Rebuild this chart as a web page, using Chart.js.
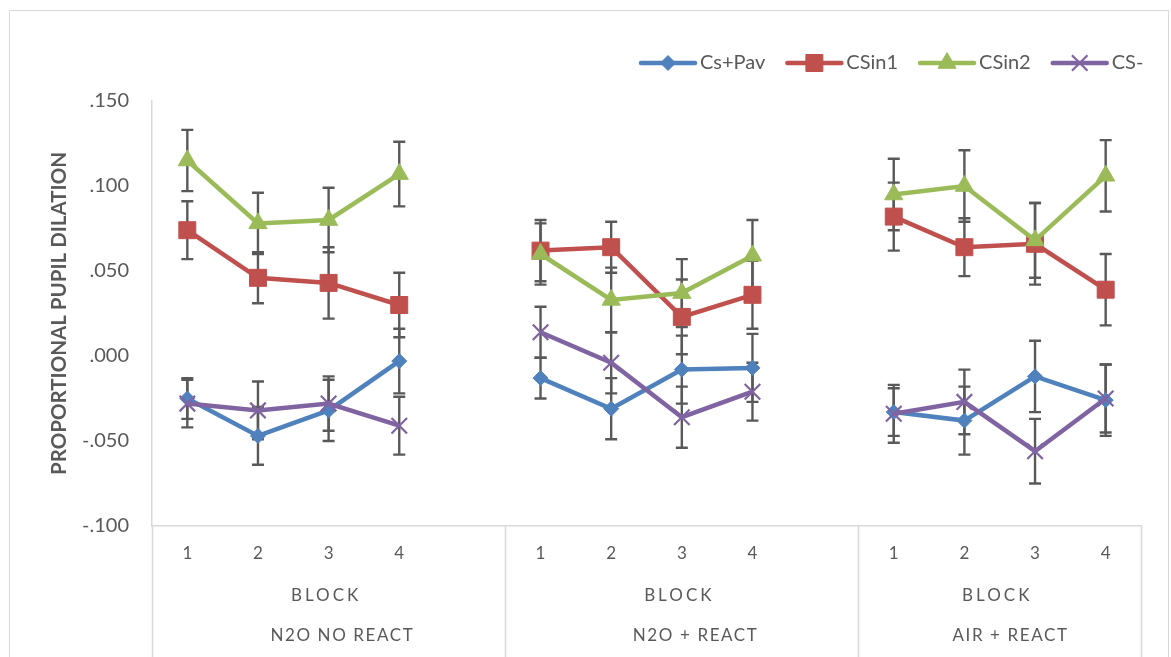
<!DOCTYPE html>
<html>
<head>
<meta charset="utf-8">
<script src="https://cdn.jsdelivr.net/npm/chart.js@4.4.1/dist/chart.umd.min.js"></script>
<style>
  html, body { margin: 0; padding: 0; background: #fff; overflow: hidden; }
  #wrap { position: relative; width: 1171px; height: 657px; }
  #frame { position: absolute; left: 9px; top: 10px; width: 1160px; height: 700px;
           border: 1px solid #d9d9d9; box-sizing: border-box; }
  #c { position: absolute; left: 0; top: 0; }
</style>
</head>
<body>
<div id="wrap">
  <div id="frame"></div>
  <canvas id="c" width="1171" height="657"></canvas>
</div>
<script>
// Block numbers along the x axis; an empty slot separates each condition
const blockLabels = ['1', '2', '3', '4', '', '1', '2', '3', '4', '', '1', '2', '3', '4'];
const groupNames = ['N2O NO REACT', 'N2O + REACT', 'AIR + REACT'];
const groupStart = [0, 5, 10];
const groupEnd = [4, 9, 13];
const groupCaption = 'BLOCK';
const yTitle = 'PROPORTIONAL PUPIL DILATION';

// Mean proportional dilation per block and standard errors
const csPav      = [-0.025, -0.047, -0.032, -0.003, null, -0.013, -0.031, -0.008, -0.007, null, -0.033, -0.038, -0.012, -0.026];
const csPavErr   = [ 0.012,  0.017,  0.018,  0.019, null,  0.012,  0.018,  0.020,  0.020, null,  0.014,  0.020,  0.021,  0.021];
const csin1      = [ 0.074,  0.046,  0.043,  0.030, null,  0.062,  0.064,  0.023,  0.036, null,  0.082,  0.064,  0.066,  0.039];
const csin1Err   = [ 0.017,  0.015,  0.021,  0.019, null,  0.018,  0.015,  0.022,  0.020, null,  0.020,  0.017,  0.024,  0.021];
const csin2      = [ 0.115,  0.078,  0.080,  0.107, null,  0.060,  0.033,  0.037,  0.059, null,  0.095,  0.100,  0.068,  0.106];
const csin2Err   = [ 0.018,  0.018,  0.019,  0.019, null,  0.018,  0.019,  0.020,  0.021, null,  0.021,  0.021,  0.022,  0.021];
const csMinus    = [-0.028, -0.032, -0.028, -0.041, null,  0.014, -0.004, -0.036, -0.021, null, -0.034, -0.027, -0.056, -0.025];
const csMinusErr = [ 0.014,  0.017,  0.016,  0.017, null,  0.015,  0.018,  0.018,  0.017, null,  0.017,  0.019,  0.019,  0.020];

const yMin = -0.1, yMax = 0.15, yStep = 0.05;

const TEXT = '#595959';
const AXIS = '#d9d9d9';
const FONT = 'Lato, "Open Sans", sans-serif';

function series(label, data, errors, color, style, radius, order) {
  return {
    label, data, errors, order,
    borderColor: color, backgroundColor: color,
    borderWidth: 4.5,
    pointStyle: style, pointRadius: radius, pointHoverRadius: radius,
    pointBackgroundColor: color, pointBorderColor: color,
    pointBorderWidth: style === 'crossRot' ? 2.2 : 1,
    tension: 0, spanGaps: false, fill: false
  };
}

// Vertical error bars with caps, drawn under lines and markers
const errorBars = {
  id: 'errorBars',
  beforeDatasetsDraw(chart) {
    const { ctx, scales: { x, y } } = chart;
    ctx.save();
    ctx.strokeStyle = '#595959';
    ctx.lineWidth = 2.4;
    chart.data.datasets.forEach(ds => {
      ds.data.forEach((v, i) => {
        const e = ds.errors[i];
        if (v === null || e === null) return;
        const px = x.getPixelForValue(i);
        const top = y.getPixelForValue(v + e);
        const bot = y.getPixelForValue(v - e);
        ctx.beginPath();
        ctx.moveTo(px, top); ctx.lineTo(px, bot);
        ctx.moveTo(px - 6, top); ctx.lineTo(px + 6, top);
        ctx.moveTo(px - 6, bot); ctx.lineTo(px + 6, bot);
        ctx.stroke();
      });
    });
    ctx.restore();
  }
};

// Group dividers, group captions and the legend row
const decor = {
  id: 'decor',
  afterDraw(chart) {
    const { ctx, scales: { x }, chartArea } = chart;
    const slot = x.getPixelForValue(1) - x.getPixelForValue(0);
    const H = chart.height;
    ctx.save();
    ctx.strokeStyle = AXIS;
    ctx.lineWidth = 1.5;
    const edges = groupStart.map(s => x.getPixelForValue(s) - slot / 2);
    edges.push(x.getPixelForValue(groupEnd[groupEnd.length - 1]) + slot / 2);
    edges.forEach(ex => {
      ctx.beginPath();
      ctx.moveTo(Math.round(ex) + 0.5, chartArea.bottom);
      ctx.lineTo(Math.round(ex) + 0.5, H);
      ctx.stroke();
    });

    ctx.fillStyle = TEXT;
    ctx.textBaseline = 'middle';
    ctx.textAlign = 'left';
    const spaced = (txt, cx, cy, gap) => {
      ctx.letterSpacing = gap + 'px';
      const w = ctx.measureText(txt).width - gap;
      ctx.fillText(txt, cx - w / 2, cy);
    };
    ctx.font = '17px ' + FONT;
    groupNames.forEach((name, g) => {
      const left = x.getPixelForValue(groupStart[g]) - slot / 2;
      const right = x.getPixelForValue(groupEnd[g]) + slot / 2;
      const cx = (left + right) / 2;
      spaced(groupCaption, cx - 4, 596, 3);
      spaced(name, cx + (g === 2 ? 10 : 13), 636, 1.6);
    });
    ctx.letterSpacing = '0px';

    // legend: line sample with marker, then label
    ctx.font = '20px ' + FONT;
    let lx = 641;
    const ly = 63;
    chart.data.datasets.forEach(ds => {
      ctx.strokeStyle = ds.borderColor;
      ctx.lineWidth = 4.5;
      ctx.lineCap = 'round';
      ctx.beginPath();
      ctx.moveTo(lx, ly); ctx.lineTo(lx + 54, ly);
      ctx.stroke();
      ctx.lineCap = 'butt';
      ctx.fillStyle = ds.pointBackgroundColor;
      ctx.strokeStyle = ds.pointBorderColor;
      ctx.lineWidth = ds.pointBorderWidth;
      Chart.helpers.drawPoint(ctx, { pointStyle: ds.pointStyle, radius: ds.pointRadius, borderWidth: ds.pointBorderWidth }, lx + 27, ly);
      ctx.fillStyle = TEXT;
      ctx.fillText(ds.label, lx + 59, ly);
      lx += 59 + ctx.measureText(ds.label).width + 22;
    });
    ctx.restore();
  }
};

new Chart(document.getElementById('c'), {
  type: 'line',
  data: {
    labels: blockLabels,
    datasets: [
      series('Cs+Pav', csPav, csPavErr, '#4f81bd', 'rectRot', 7.5, 4),
      series('CSin1', csin1, csin1Err, '#c0504d', 'rect', 12, 3),
      series('CSin2', csin2, csin2Err, '#9bbb59', 'triangle', 10.5, 2),
      series('CS-', csMinus, csMinusErr, '#8064a2', 'crossRot', 11, 1)
    ]
  },
  options: {
    responsive: false,
    animation: false,
    events: [],
    layout: { padding: { top: 101, right: 30, left: 0, bottom: 0 } },
    plugins: { legend: { display: false }, tooltip: { enabled: false } },
    scales: {
      x: {
        type: 'category',
        offset: true,
        grid: { display: false, drawTicks: false },
        border: { display: true, color: AXIS, width: 1.5 },
        ticks: { color: TEXT, font: { family: FONT, size: 17 }, padding: 17, autoSkip: false, maxRotation: 0 },
        afterFit(s) { s.height = 131; }
      },
      y: {
        min: yMin, max: yMax,
        grid: { display: false, drawTicks: false },
        border: { display: true, color: AXIS, width: 1.5 },
        ticks: {
          stepSize: yStep, color: TEXT, font: { family: FONT, size: 20 }, padding: 23,
          callback: v => {
            const s = Math.abs(v).toFixed(3).replace(/^0/, '');
            return (v < -1e-9 ? '-' : '') + s;
          }
        },
        title: { display: true, text: yTitle, color: TEXT, font: { family: FONT, size: 20.5, weight: 'bold' }, padding: { top: 47, bottom: 0 } },
        afterFit(s) { s.width = 152; }
      }
    }
  },
  plugins: [errorBars, decor]
});
</script>
</body>
</html>
